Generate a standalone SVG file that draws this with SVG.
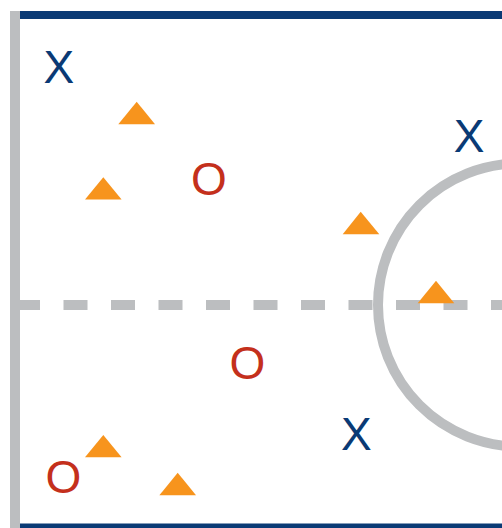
<svg xmlns="http://www.w3.org/2000/svg" width="502" height="528" viewBox="0 0 502 528">
<style>
.line{fill:none;stroke:#BCBEC0;stroke-width:10}
.edge{fill:none;stroke:#0A3A75;stroke-width:8}
.cone{fill:#F7941D}
.x{font-family:"Liberation Sans",Arial,sans-serif;font-size:46px;fill:#0A3A75;text-anchor:middle}
.o{font-family:"Liberation Sans",Arial,sans-serif;font-size:46px;fill:#C4301C;text-anchor:middle}
</style>
<rect width="502" height="528" fill="#FFFFFF"/>
<g id="court">
<line class="edge" x1="20" y1="15" x2="502" y2="15"/>
<line class="edge" x1="20" y1="527.5" x2="502" y2="527.5"/>
<line class="line" x1="15" y1="11" x2="15" y2="528"/>
<line class="line" x1="16" y1="305" x2="502" y2="305" stroke-dasharray="24 23.5"/>
<circle class="line" cx="519.5" cy="305" r="141.5"/>
</g>
<g id="cones">
<polygon class="cone" points="136.7,101.7 155,124.3 118.3,124.3"/>
<polygon class="cone" points="103.3,177.3 121.6,199.6 85,199.6"/>
<polygon class="cone" points="360.7,211.7 379.3,234.3 342.7,234.3"/>
<polygon class="cone" points="436,280.7 454.3,303.3 417.7,303.3"/>
<polygon class="cone" points="103.3,435 121.6,457.3 85,457.3"/>
<polygon class="cone" points="177.7,472.7 196,495.3 159.4,495.3"/>
</g>
<g id="players">
<text class="x" x="58.8" y="82.6">X</text>
<text class="x" x="469" y="152">X</text>
<text class="x" x="356.3" y="450">X</text>
<text class="o" x="209" y="195">O</text>
<text class="o" x="247.5" y="379.3">O</text>
<text class="o" x="63.3" y="492.5">O</text>
</g>
</svg>
